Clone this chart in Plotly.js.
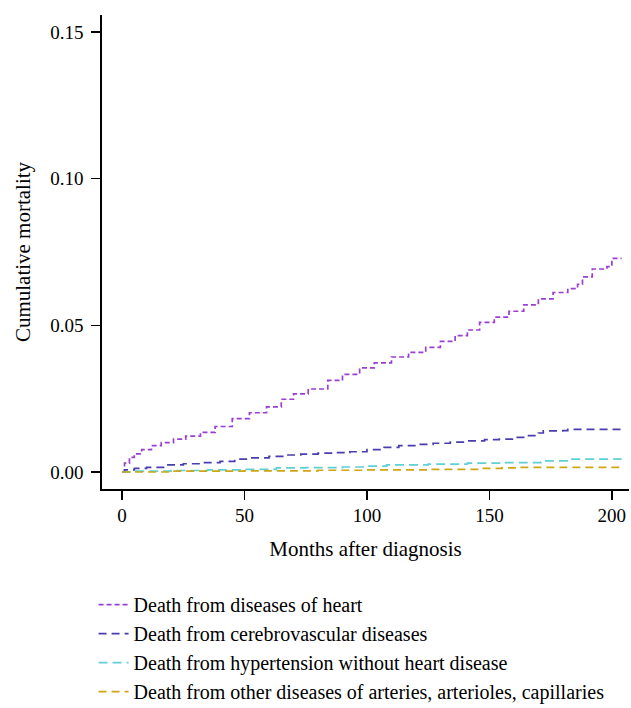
<!DOCTYPE html>
<html>
<head>
<meta charset="utf-8">
<script src="https://cdn.plot.ly/plotly-3.0.1.min.js"></script>
<style>html,body{margin:0;padding:0;background:#fff;}#chart{width:631px;height:708px;}</style>
</head>
<body>
<div id="chart"></div>
<script>
const seriesNames = [
  "Death from diseases of heart",
  "Death from cerebrovascular diseases",
  "Death from hypertension without heart disease",
  "Death from other diseases of arteries, arterioles, capillaries"
];

const heartMonths = [0,1,3,5,8,12,16,21,26,32,38,45,52,59,65,70,76,84,90,97,103,110,117,124,130,136,141,146,152,158,164,170,176,182,186,188,192,198,200,204];
const heartValues = [0,0.003,0.005,0.0062,0.0076,0.009,0.010,0.0112,0.0122,0.0135,0.0155,0.0182,0.0202,0.0222,0.0248,0.0266,0.0283,0.0312,0.0333,0.0355,0.0372,0.0392,0.0408,0.0425,0.0445,0.0465,0.0484,0.051,0.0528,0.0548,0.057,0.059,0.0612,0.0625,0.064,0.0665,0.0692,0.070,0.0728,0.0728];

const cerebroMonths = [0,1,5,10,18,25,33,40,46,52,60,67,73,80,87,93,100,107,113,120,127,134,141,148,154,160,165,170,172,180,182,204];
const cerebroValues = [0,0.0007,0.0012,0.0016,0.0024,0.0028,0.0032,0.0036,0.0044,0.0048,0.0053,0.0058,0.0061,0.0064,0.0066,0.0069,0.0076,0.0084,0.009,0.0094,0.0098,0.0102,0.0106,0.011,0.0112,0.0118,0.0124,0.0133,0.014,0.0141,0.0145,0.0145];

const hyperMonths = [0,5,20,35,50,63,75,90,100,108,125,141,155,171,173,183,204];
const hyperValues = [0,0.0003,0.0005,0.0007,0.0009,0.0014,0.0015,0.0017,0.002,0.0024,0.0027,0.003,0.0032,0.0034,0.0038,0.0044,0.0044];

const arteryMonths = [0,20,50,80,100,125,146,155,162,204];
const arteryValues = [0,0.0003,0.0004,0.0006,0.0007,0.0009,0.0012,0.0014,0.0016,0.0016];

const xTicks = [0,50,100,150,200];
const yTicks = [0,0.05,0.10,0.15];
const yTickLabels = ["0.00","0.05","0.10","0.15"];

const colors = ["#9b3fd0","#4a3db0","#5fd0d4","#d0a514"];
const dashes = ["5px,3px","8px,5px","9px,5px","8px,5px"];

const xs = [heartMonths, cerebroMonths, hyperMonths, arteryMonths];
const ys = [heartValues, cerebroValues, hyperValues, arteryValues];

const traces = seriesNames.map((n,i)=>({
  type:"scatter", mode:"lines", name:n,
  x: xs[i], y: ys[i],
  line:{color:colors[i], width:1.7, dash:dashes[i], shape:"hv"}
}));

const font = "Liberation Serif, Times New Roman, serif";
const layout = {
  width:631, height:708,
  margin:{l:102, r:2, t:15, b:219, autoexpand:false},
  paper_bgcolor:"#fff", plot_bgcolor:"#fff",
  font:{family:font, size:19, color:"#000"},
  showlegend:true,
  legend:{x:-0.016, y:-0.2029, xanchor:"left", yanchor:"top", orientation:"v",
          font:{family:font, size:20, color:"#000"}, itemwidth:30},
  xaxis:{
    range:[-8.2,207], tickvals:xTicks, ticktext:xTicks.map(String),
    showgrid:false, zeroline:false, showline:true, linecolor:"#000", linewidth:1.6,
    ticks:"outside", ticklen:9, tickwidth:1.3, tickcolor:"#000", ticklabelstandoff:0,
    tickfont:{family:font, size:19},
    title:{text:"Months after diagnosis", font:{family:font, size:21}, standoff:16}
  },
  yaxis:{
    range:[-0.0058,0.1558], tickvals:yTicks, ticktext:yTickLabels,
    showgrid:false, zeroline:false, showline:true, linecolor:"#000", linewidth:1.6,
    ticks:"outside", ticklen:9, tickwidth:1.3, tickcolor:"#000", ticklabelstandoff:4,
    tickfont:{family:font, size:19},
    title:{text:"Cumulative mortality", font:{family:font, size:21}, standoff:14}
  }
};
Plotly.newPlot("chart", traces, layout, {displayModeBar:false, staticPlot:true});
</script>
</body>
</html>
